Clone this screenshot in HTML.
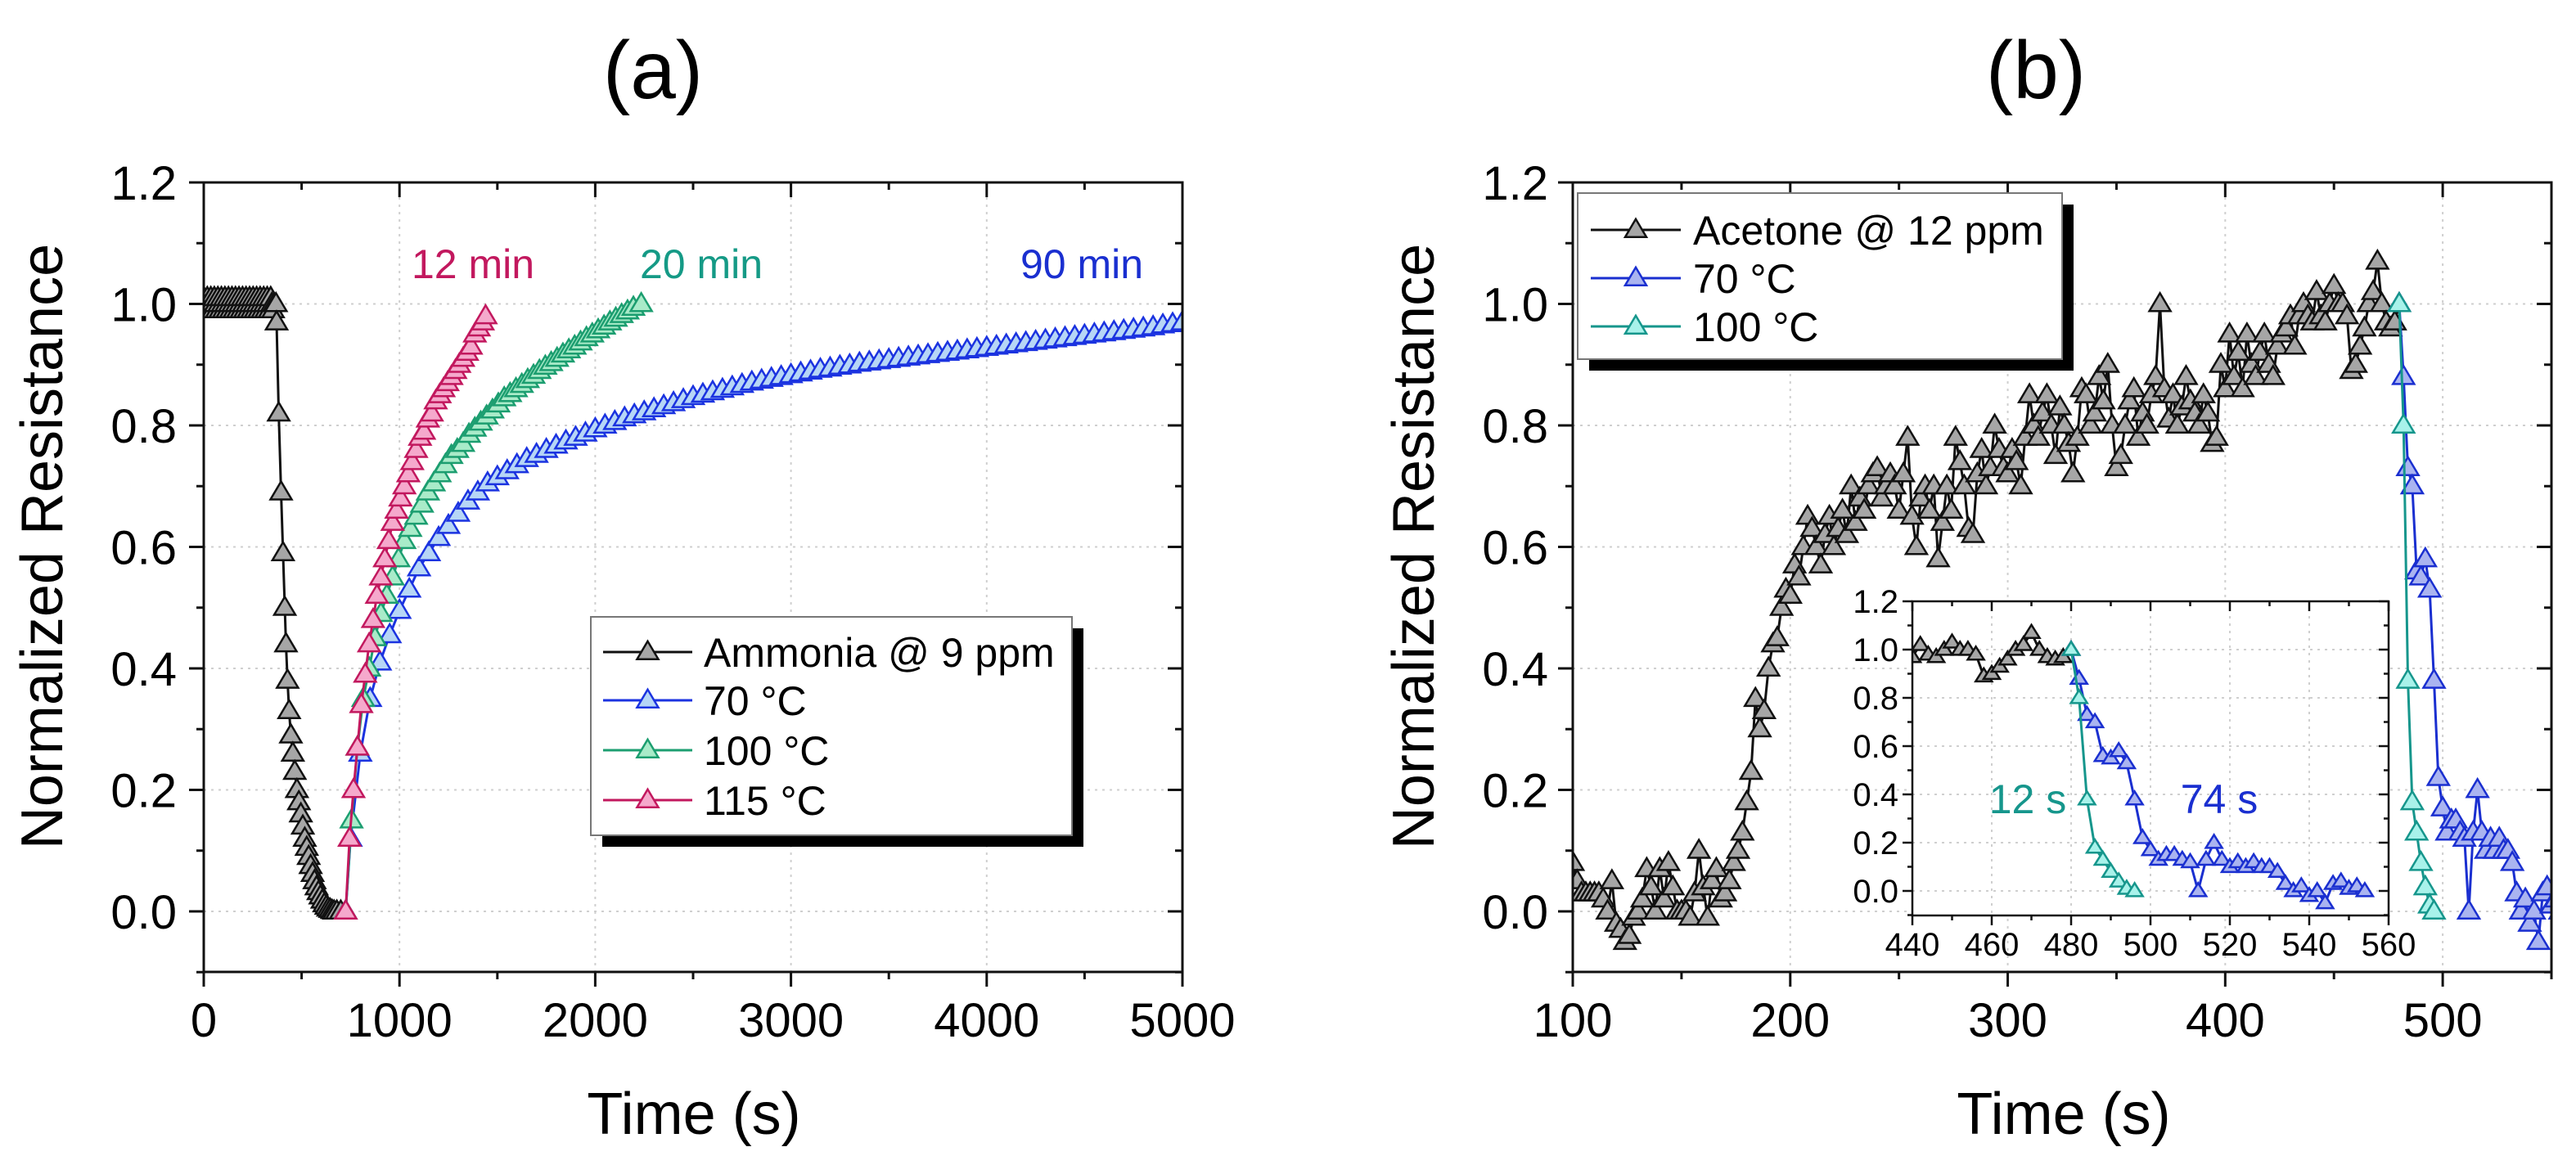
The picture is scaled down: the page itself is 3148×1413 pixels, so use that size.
<!DOCTYPE html>
<html><head><meta charset="utf-8"><style>
html,body{margin:0;padding:0;background:#fff;}
svg{display:block;font-family:"Liberation Sans",Arial,sans-serif;}
</style></head><body>
<svg id="chart" xmlns="http://www.w3.org/2000/svg" width="3148" height="1413" viewBox="0 0 3148 1413">
<defs>
<clipPath id="clipA"><rect x="249" y="223" width="1196" height="965"/></clipPath>
<clipPath id="clipB"><rect x="1922" y="223" width="1196" height="965"/></clipPath>
<clipPath id="clipI"><rect x="2337" y="735" width="582" height="384"/></clipPath>
</defs>
<rect x="0" y="0" width="3148" height="1413" fill="#fff"/>
<text x="798" y="120" font-size="100" text-anchor="middle">(a)</text>
<text x="2488" y="120" font-size="100" text-anchor="middle">(b)</text>
<text x="848" y="1386" font-size="72" text-anchor="middle">Time (s)</text>
<text x="2522" y="1386" font-size="72" text-anchor="middle">Time (s)</text>
<text transform="translate(76,668) rotate(-90)" font-size="72" text-anchor="middle">Normalized Resistance</text>
<text transform="translate(1752,668) rotate(-90)" font-size="72" text-anchor="middle">Normalized Resistance</text>
<g id="layer"></g>
</svg>
<script>
// ---------- Panel (a) data ----------
const aFlatT = [0,6,12,18,24,30,36,42,48,54,60,66,72,78,84,90,96,102,108,114,120,126,132,138,144,150,156,162,168,174,180,186,192,198,204,210,216,222,228,234,240,246,252,258,264,270,276,282,288,294,300,306,312,318,324,330,336,342,348,354,360];
const aFlatY = [1.01,1.0,0.99,1.01,1.0,0.99,1.01,1.0,0.99,1.01,1.0,0.99,1.01,1.0,0.99,1.01,1.0,0.99,1.01,1.0,0.99,1.01,1.0,0.99,1.01,1.0,0.99,1.01,1.0,0.99,1.01,1.0,0.99,1.01,1.0,0.99,1.01,1.0,0.99,1.01,1.0,0.99,1.01,1.0,0.99,1.01,1.0,0.99,1.01,1.0,0.99,1.01,1.0,0.99,1.01,1.0,0.99,1.01,1.0,0.99,1.0];
const aDropT = [369,372,383,395,405,414,420,428,436,445,455,465,476,486,496,506,516,526,536,546,556,566,576,586,596,606,616,626,636,646,656,666,680,700];
const aDropY = [1.0,0.97,0.82,0.69,0.59,0.50,0.44,0.38,0.33,0.29,0.26,0.23,0.20,0.18,0.16,0.14,0.12,0.105,0.09,0.075,0.062,0.05,0.04,0.032,0.025,0.018,0.012,0.008,0.005,0.003,0.001,0,0,0];
const a70T = [725,750,800,850,900,950,1000,1050,1100,1150,1200,1250,1300,1350,1400,1450,1500,1550,1600,1650,1700,1750,1800,1850,1900,1950,2000,2050,2100,2150,2200,2250,2300,2350,2400,2450,2500,2550,2600,2650,2700,2750,2800,2850,2900,2950,3000,3050,3100,3150,3200,3250,3300,3350,3400,3450,3500,3550,3600,3650,3700,3750,3800,3850,3900,3950,4000,4050,4100,4150,4200,4250,4300,4350,4400,4450,4500,4550,4600,4650,4700,4750,4800,4850,4900,4950,5000];
const a70Y = [0,0.12,0.26,0.35,0.41,0.455,0.495,0.53,0.565,0.59,0.615,0.635,0.655,0.675,0.69,0.705,0.715,0.725,0.735,0.745,0.752,0.76,0.767,0.774,0.78,0.787,0.794,0.80,0.806,0.812,0.817,0.822,0.827,0.832,0.837,0.842,0.847,0.851,0.855,0.859,0.863,0.867,0.871,0.874,0.877,0.880,0.883,0.886,0.889,0.892,0.894,0.897,0.899,0.902,0.904,0.906,0.908,0.910,0.912,0.914,0.916,0.918,0.920,0.922,0.924,0.926,0.928,0.930,0.932,0.934,0.936,0.938,0.940,0.942,0.944,0.946,0.948,0.950,0.952,0.954,0.956,0.958,0.960,0.962,0.965,0.967,0.97];
const a100T = [725,755,785,815,845,875,905,935,965,995,1025,1055,1085,1115,1145,1175,1205,1235,1265,1295,1325,1355,1385,1415,1445,1475,1505,1535,1565,1595,1625,1655,1685,1715,1745,1775,1805,1835,1865,1895,1925,1955,1985,2015,2045,2075,2105,2135,2165,2195,2235];
const a100Y = [0,0.15,0.27,0.35,0.40,0.45,0.49,0.52,0.55,0.58,0.61,0.63,0.65,0.67,0.69,0.705,0.72,0.735,0.75,0.76,0.77,0.785,0.795,0.805,0.815,0.825,0.835,0.845,0.852,0.86,0.867,0.875,0.882,0.89,0.897,0.903,0.91,0.917,0.924,0.93,0.937,0.944,0.95,0.957,0.963,0.97,0.976,0.982,0.988,0.994,1.0];
const a115T = [725,745,765,785,805,825,845,865,885,905,925,945,965,985,1005,1025,1045,1065,1085,1105,1125,1145,1165,1185,1205,1225,1245,1265,1285,1305,1325,1345,1365,1385,1405,1425,1440];
const a115Y = [0,0.12,0.20,0.27,0.34,0.39,0.44,0.48,0.52,0.55,0.58,0.61,0.64,0.66,0.68,0.70,0.72,0.74,0.76,0.78,0.79,0.81,0.82,0.84,0.85,0.86,0.87,0.88,0.89,0.90,0.91,0.92,0.93,0.95,0.96,0.97,0.98];
const aXTicks = [0,1000,2000,3000,4000,5000];
const aXLabels = ["0","1000","2000","3000","4000","5000"];
const yTicks = [0,0.2,0.4,0.6,0.8,1.0,1.2];
const yLabels = ["0.0","0.2","0.4","0.6","0.8","1.0","1.2"];

// ---------- Panel (b) data ----------
const bAcetoneStart = 100;
const bAcetoneStep = 2;
const bAcetoneY = [0.08,0.05,0.03,0.03,0.03,0.03,0.03,0.02,0.0,0.05,-0.02,-0.03,-0.05,-0.04,-0.01,0.0,0.02,0.07,0.04,0.0,0.07,0.02,0.08,0.04,0.0,0.0,0.0,-0.01,0.03,0.1,0.04,-0.01,0.05,0.07,0.02,0.03,0.05,0.08,0.1,0.13,
0.18,0.23,0.35,0.30,0.33,0.40,0.44,0.45,0.50,0.53,0.52,0.57,0.55,0.60,0.65,0.63,0.60,0.57,0.62,0.65,0.60,0.63,0.66,0.62,0.70,0.64,0.68,0.66,0.70,0.72,
0.73,0.68,0.70,0.72,0.70,0.66,0.72,0.78,0.65,0.60,0.68,0.70,0.66,0.70,0.58,0.64,0.70,0.66,0.78,0.74,0.70,0.63,0.62,0.72,0.76,0.70,0.73,0.80,0.76,0.73,
0.72,0.76,0.74,0.70,0.78,0.85,0.80,0.78,0.82,0.85,0.80,0.75,0.83,0.80,0.77,0.72,0.78,0.86,0.85,0.80,0.82,0.88,0.84,0.90,0.80,0.73,0.75,0.80,0.84,0.86,
0.78,0.82,0.80,0.85,0.88,1.0,0.86,0.81,0.85,0.80,0.83,0.88,0.84,0.82,0.80,0.85,0.82,0.77,0.78,0.90,0.86,0.95,0.88,0.92,0.86,0.95,0.90,0.88,0.92,0.95,
0.90,0.88,0.93,0.95,0.96,0.98,0.93,0.98,1.0,0.98,
0.97,1.02,0.98,0.97,1.0,1.03,1.0,1.0,0.98,0.89,0.90,0.93,0.96,1.0,1.02,1.07,1.0,0.97,0.96,0.97,1.0];
const b70Start = 480;
const b70Step = 2;
const b70Y = [1.0,0.88,0.73,0.70,0.56,0.55,0.58,0.53,0.38,0.22,0.17,0.13,0.15,0.15,0.13,0.12,0.0,0.13,0.20,0.13,0.10,0.12,0.10,0.12,0.10,0.10,0.08,0.03,0.0,0.02,-0.02,0.0,-0.05,0.03,0.04,0.01,0.02,0.0];
const b100Start = 480;
const b100Step = 2;
const b100Y = [1.0,0.80,0.38,0.18,0.13,0.08,0.04,0.01,0.0];
const bXTicks = [100,200,300,400,500];
const bXLabels = ["100","200","300","400","500"];
const iXTicks = [440,460,480,500,520,540,560];
const iXLabels = ["440","460","480","500","520","540","560"];

// ---------- drawing ----------
const NS='http://www.w3.org/2000/svg';
const layer=document.getElementById('layer');
function mk(tag, attrs, parent){const e=document.createElementNS(NS,tag);for(const k in attrs)e.setAttribute(k,attrs[k]);(parent||layer).appendChild(e);return e;}

const xA=t=>249+t/5000*1196;
const yM=v=>1114-v*742.5;
const xB=t=>1922+(t-100)/450*1196;
const xI=t=>2337+(t-440)/120*582;
const yI=v=>1089-v*295;

function frame(L,T,R,B,xs,ys,xMaj,xMin,yMaj,yMin,big,name,parent){
  const g=mk('g',{},parent);
  
  
  const M=big?18:12, m=big?9:6, sw=big?3:2.5;
  xMaj.forEach(t=>{const gx=xs(t); if(gx>L+2&&gx<R-2){const l=mk('line',{x1:gx,y1:T,x2:gx,y2:B,stroke:'#cfcfcf','stroke-width':2,'stroke-dasharray':'3 6'},g);
    
    }});
  yMaj.forEach(v=>{const gy=ys(v); if(gy>T+2&&gy<B-2){const l=mk('line',{x1:L,y1:gy,x2:R,y2:gy,stroke:'#cfcfcf','stroke-width':2,'stroke-dasharray':'3 6'},g);
    
    }});
  let d='';
  xMaj.forEach(t=>{const x=xs(t);d+=`M${x},${B}v${M}M${x},${T}v${M}`;});
  xMin.forEach(t=>{const x=xs(t);d+=`M${x},${B}v${m}M${x},${T}v${m}`;});
  yMaj.forEach(v=>{const y=ys(v);d+=`M${L},${y}h${-M}M${R},${y}h${-M}`;});
  yMin.forEach(v=>{const y=ys(v);d+=`M${L},${y}h${-m}M${R},${y}h${-m}`;});
  const tk=mk('path',{d:d,stroke:'#111','stroke-width':sw,fill:'none'},g);
  
  
  return g;
}
function border(L,T,R,B,big,name,parent){
  const r=mk('rect',{x:L,y:T,width:R-L,height:B-T,fill:'none',stroke:'#111','stroke-width':big?3:2.5},parent);
  
  
}
function tri(cx,cy,w,h){return `M${cx},${cy-h*0.6}L${cx-w/2},${cy+h*0.4}L${cx+w/2},${cy+h*0.4}Z`;}
function series(ts,vs,xs,ys,stroke,fill,w,h,name,clip,parent){
  const g=mk('g',{'clip-path':clip},parent);
  
  
  let d='';
  ts.forEach((t,i)=>{d+=(i?'L':'M')+xs(t)+','+ys(vs[i]);});
  const ln=mk('path',{d:d,fill:'none',stroke:stroke,'stroke-width':3,'stroke-linejoin':'round'},g);
  
  
  ts.forEach((t,i)=>{
    const p=mk('path',{d:tri(xs(t),ys(vs[i]),w,h),fill:fill,stroke:stroke,'stroke-width':2.5,'stroke-linejoin':'miter'},g);
    
    
  });
}
function seq(start,step,n){const a=[];for(let i=0;i<n;i++)a.push(start+i*step);return a;}
function labelsX(ticks,labels,xs,y,size,name){ticks.forEach((t,i)=>{const e=mk('text',{x:xs(t),y:y,'font-size':size,'text-anchor':'middle'});e.textContent=labels[i];
  
  });}
function labelsY(ticks,labels,ys,x,size,name){ticks.forEach((v,i)=>{const e=mk('text',{x:x,y:ys(v)+size*0.36,'font-size':size,'text-anchor':'end'});e.textContent=labels[i];
  
  });}

const minorYMain=[-0.1,0.1,0.3,0.5,0.7,0.9,1.1];
// Panel A
frame(249,223,1445,1188,xA,yM,aXTicks,[500,1500,2500,3500,4500],yTicks,minorYMain,true,'panel-a');
labelsX(aXTicks,aXLabels,xA,1267,58,'panel-a-x-tick-label');
labelsY(yTicks,yLabels,yM,216,58,'panel-a-y-tick-label');
series(aFlatT.concat(aDropT),aFlatY.concat(aDropY),xA,yM,'#111','#a6a6a6',26,22,'ammonia-series','url(#clipA)');
series(a70T,a70Y,xA,yM,'#1b33e0','#b6d6f6',26,22,'series-70c','url(#clipA)');
series(a100T,a100Y,xA,yM,'#1c9e70','#a9ebc9',26,22,'series-100c','url(#clipA)');
series(a115T,a115Y,xA,yM,'#c2185e','#f5a9cc',26,22,'series-115c','url(#clipA)');
border(249,223,1445,1188,true,'panel-a');
[['12 min',578,'#c2185e','annotation-12-min'],['20 min',857,'#159a86','annotation-20-min'],['90 min',1322,'#1a2fd0','annotation-90-min']].forEach(a=>{
  const e=mk('text',{x:a[1],y:340,'font-size':50,'text-anchor':'middle',fill:a[2]});e.textContent=a[0];
  
  
});

// Panel B
frame(1922,223,3118,1188,xB,yM,bXTicks,[150,250,350,450,550],yTicks,minorYMain,true,'panel-b');
labelsX(bXTicks,bXLabels,xB,1267,58,'panel-b-x-tick-label');
labelsY(yTicks,yLabels,yM,1892,58,'panel-b-y-tick-label');
const tAc=seq(bAcetoneStart,bAcetoneStep,bAcetoneY.length);
const t70=seq(b70Start,b70Step,b70Y.length);
const t100=seq(b100Start,b100Step,b100Y.length);
series(tAc,bAcetoneY,xB,yM,'#111','#a6a6a6',26,22,'acetone-series','url(#clipB)');
series(t70,b70Y,xB,yM,'#1a2fd0','#aab4f0',26,22,'series-b-70c','url(#clipB)');
series(t100,b100Y,xB,yM,'#16968c','#a8f2ea',26,22,'series-b-100c','url(#clipB)');
border(1922,223,3118,1188,true,'panel-b');

// Inset
const ig=mk('g',{});


const ibg=mk('rect',{x:2337,y:735,width:582,height:384,fill:'#fff'},ig);


frame(2337,735,2919,1119,xI,yI,iXTicks,[450,470,490,510,530,550],yTicks,minorYMain,false,'inset',ig);
yTicks.forEach((v,i)=>{const e=mk('text',{x:2320,y:yI(v)+14,'font-size':40,'text-anchor':'end'},ig);e.textContent=yLabels[i];
  
  });
iXTicks.forEach((t,i)=>{const e=mk('text',{x:xI(t),y:1168,'font-size':40,'text-anchor':'middle'},ig);e.textContent=iXLabels[i];
  
  });
const inT=[],inY=[];tAc.forEach((t,i)=>{if(t>=438){inT.push(t);inY.push(bAcetoneY[i]);}});
series(inT,inY,xI,yI,'#111','#a6a6a6',20,16,'inset-acetone-series','url(#clipI)',ig);
series(t70,b70Y,xI,yI,'#1a2fd0','#aab4f0',20,16,'inset-70c-series','url(#clipI)',ig);
series(t100,b100Y,xI,yI,'#16968c','#a8f2ea',20,16,'inset-100c-series','url(#clipI)',ig);
border(2337,735,2919,1119,false,'inset',ig);
[['12 s',2478,'#16968c','annotation-12-s'],['74 s',2712,'#1a2fd0','annotation-74-s']].forEach(a=>{
  const e=mk('text',{x:a[1],y:994,'font-size':50,'text-anchor':'middle',fill:a[2]},ig);e.textContent=a[0];
  
  
});

// Legends
function legend(x,y,w,h,rows,rowY,lineX1,lineX2,textX,fs,name){
  const g=mk('g',{});
  
  
  const sh=mk('rect',{x:x+14,y:y+14,width:w,height:h,fill:'#000'},g);
  
  
  const bx=mk('rect',{x:x,y:y,width:w,height:h,fill:'#fff',stroke:'#777','stroke-width':2},g);
  
  
  rows.forEach((r,i)=>{
    const yy=rowY[i];
    const ln=mk('line',{x1:lineX1,y1:yy,x2:lineX2,y2:yy,stroke:r[1],'stroke-width':3},g);
    
    
    const mkr=mk('path',{d:tri((lineX1+lineX2)/2,yy,26,22),fill:r[2],stroke:r[1],'stroke-width':2.5},g);
    
    
    const tx=mk('text',{x:textX,y:yy+18,'font-size':fs},g);tx.textContent=r[0];
    
    
  });
}
legend(722,754,588,267,[['Ammonia @ 9 ppm','#111','#a6a6a6'],['70 °C','#1b33e0','#b6d6f6'],['100 °C','#1c9e70','#a9ebc9'],['115 °C','#c2185e','#f5a9cc']],[797,856,917,978],737,846,860,50,'panel-a-legend');
legend(1928,236,592,203,[['Acetone @ 12 ppm','#111','#a6a6a6'],['70 °C','#1a2fd0','#aab4f0'],['100 °C','#16968c','#a8f2ea']],[281,340,399],1944,2054,2069,50,'panel-b-legend');
</script>
</body></html>
